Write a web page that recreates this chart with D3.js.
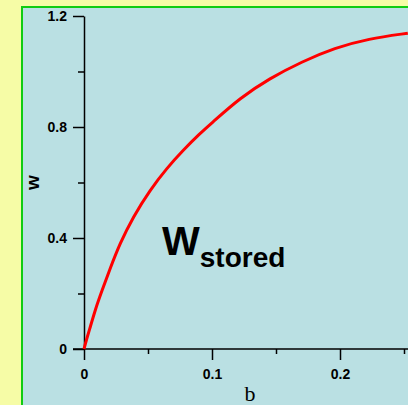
<!DOCTYPE html>
<html>
<head>
<meta charset="utf-8">
<script src="https://cdn.jsdelivr.net/npm/d3@7/dist/d3.min.js"></script>
<style>
	html, body { margin: 0; padding: 0; background: #f6fca6; overflow: hidden; }
	svg { display: block; }
	.tick text { font-family: Arial, "Liberation Sans", sans-serif; font-weight: bold; font-size: 14px; fill: #000; }
</style>
</head>
<body>
<div id="chart"></div>
<script>
// curve
const bValues = [0, 0.002, 0.004, 0.009, 0.014, 0.020, 0.028, 0.0385, 0.0516, 0.0646, 0.0776, 0.0906, 0.100, 0.122, 0.145, 0.170, 0.196, 0.222, 0.253];
const wValues = [0, 0.035, 0.065, 0.145, 0.21, 0.285, 0.38, 0.477, 0.573, 0.651, 0.717, 0.777, 0.815, 0.905, 0.975, 1.035, 1.085, 1.118, 1.138];

const xMajor = [0, 0.1, 0.2],
	xMinor = [0.05, 0.15, 0.25],
	yMajor = [0, 0.4, 0.8, 1.2],
	yMinor = [0.2, 0.6, 1.0];

const options = {
	w: 408,
	h: 405,
	mTop: 16,
	mLeft: 84,
	mBottom: 56,
	plotRight: 404,
	tickMajor: 11,
	tickMinor: 6
};

const svg = d3.select('#chart').append('svg')
	.attr('width', options.w)
	.attr('height', options.h);

// panel with green frame (runs off right and bottom)
svg.append('rect')
	.attr('x', 22)
	.attr('y', 7)
	.attr('width', options.w + 20)
	.attr('height', options.h + 20)
	.attr('fill', '#bae0e3')
	.attr('stroke', '#11cc11')
	.attr('stroke-width', 2);

const x = d3.scaleLinear().domain([0, 0.25]).range([options.mLeft, options.plotRight]),
	y = d3.scaleLinear().domain([0, 1.2]).range([options.h - options.mBottom, options.mTop]);

const fmt = d => d === 0 ? '0' : d3.format('.1f')(d);

// y axis
svg.append('g')
	.attr('transform', 'translate(' + x(0) + ',0)')
	.call(d3.axisLeft(y).tickValues(yMajor).tickSize(options.tickMajor).tickSizeOuter(0).tickPadding(6).tickFormat(fmt));
svg.append('g')
	.attr('transform', 'translate(' + x(0) + ',0)')
	.call(d3.axisLeft(y).tickValues(yMinor).tickSize(options.tickMinor).tickSizeOuter(0).tickFormat(''))
	.select('.domain').remove();

// x axis
const xAxis = svg.append('g')
	.attr('transform', 'translate(0,' + y(0) + ')')
	.call(d3.axisBottom(x).tickValues(xMajor).tickSize(options.tickMajor).tickSizeOuter(0).tickPadding(9).tickFormat(fmt));
xAxis.select('.domain').remove();
svg.append('g')
	.attr('transform', 'translate(0,' + y(0) + ')')
	.call(d3.axisBottom(x).tickValues(xMinor).tickSize(5).tickSizeOuter(0).tickFormat(''))
	.select('.domain').remove();
svg.append('line')
	.attr('x1', x(0) - options.tickMajor)
	.attr('x2', options.w)
	.attr('y1', y(0))
	.attr('y2', y(0))
	.attr('stroke', '#000')
	.attr('stroke-width', 1.5);

svg.selectAll('.domain, .tick line').attr('stroke', '#000').attr('stroke-width', 1.5);

// curve
const data = bValues.map((b, i) => ({ b: b, w: wValues[i] }));
svg.append('path')
	.datum(data)
	.attr('fill', 'none')
	.attr('stroke', '#ff0000')
	.attr('stroke-width', 3)
	.attr('d', d3.line().x(d => x(d.b)).y(d => y(d.w)).curve(d3.curveBasis));

// axis titles
svg.append('text')
	.attr('transform', 'translate(39,' + y(0.6) + ') rotate(-90)')
	.attr('text-anchor', 'middle')
	.style('font-family', 'Arial, "Liberation Sans", sans-serif')
	.style('font-weight', 'bold')
	.style('font-size', '19px')
	.text('w');

svg.append('text')
	.attr('x', 250)
	.attr('y', 401)
	.attr('text-anchor', 'middle')
	.style('font-family', '"Times New Roman", "Liberation Serif", serif')
	.style('font-size', '22px')
	.text('b');

// annotation
const note = svg.append('text')
	.attr('x', 162)
	.attr('y', 255)
	.style('font-family', 'Arial, "Liberation Sans", sans-serif')
	.style('font-weight', 'bold')
	.style('font-size', '40px');
note.append('tspan').text('W');
note.append('tspan').attr('dy', 12).style('font-size', '28px').text('stored');
</script>
</body>
</html>
